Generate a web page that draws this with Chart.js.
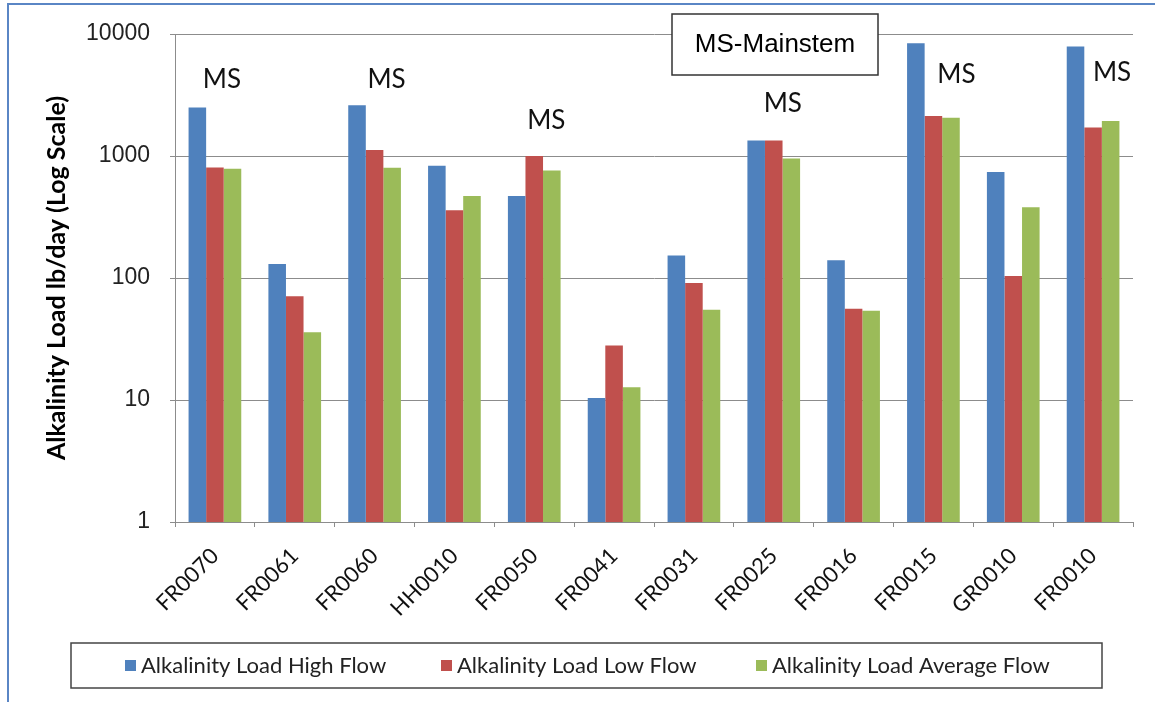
<!DOCTYPE html>
<html>
<head>
<meta charset="utf-8">
<script src="https://cdn.jsdelivr.net/npm/chart.js@4.4.0/dist/chart.umd.min.js"></script>
<style>
    body { margin: 0; background: #fff; }
    #wrap { position: relative; width: 1155px; height: 702px; }
    #frame { position: absolute; left: 7px; top: 3px; right: 0; bottom: 0;
             border-top: 2px solid #5a86c5; border-left: 2px solid #5a86c5; pointer-events: none; }
</style>
</head>
<body>
<div id="wrap">
    <canvas id="alkChart" width="1155" height="702"></canvas>
    <div id="frame"></div>
</div>
<script>
'use strict';

var stations = ["FR0070", "FR0061", "FR0060", "HH0010", "FR0050", "FR0041",
                "FR0031", "FR0025", "FR0016", "FR0015", "GR0010", "FR0010"];
var highFlow = [2500, 130, 2600, 830, 470, 10.4, 153, 1340, 140, 8400, 740, 7900];
var lowFlow  = [805, 71, 1120, 360, 1000, 28, 91, 1340, 56, 2130, 104, 1710];
var avgFlow  = [787, 36, 800, 470, 760, 12.7, 55, 955, 54, 2060, 380, 1940];
var yTicks   = [1, 10, 100, 1000, 10000];
var mainstem = ["FR0070", "FR0060", "FR0050", "FR0025", "FR0015", "FR0010"];

// where the hand placed "MS" boxes sit: px offset from category centre, height in axis units
var msPlace = [[7, 4200], [12, 4200], [12, 1940], [9, 2670], [23, 4610], [19, 4790]];

var blue = "#4f81bd", red = "#c0504d", green = "#9bbb59";
var gridGray = "#8c8c8c";

var annotations = {
    id: 'annotations',
    afterDraw: function (chart) {
        var ctx = chart.ctx;
        var xs = chart.scales.x, ys = chart.scales.y;
        ctx.save();

        // MS labels
        ctx.fillStyle = "#111";
        ctx.font = "26px Lato";
        ctx.textAlign = "center";
        ctx.textBaseline = "middle";
        mainstem.forEach(function (name, i) {
            var idx = stations.indexOf(name);
            var x = xs.getPixelForValue(idx) + msPlace[i][0];
            var y = ys.getPixelForValue(msPlace[i][1]);
            ctx.fillText("MS", x, y);
        });

        // MS-Mainstem note box
        ctx.fillStyle = "#fff";
        ctx.fillRect(672, 14, 206, 61);
        ctx.strokeStyle = "#333";
        ctx.lineWidth = 1.5;
        ctx.strokeRect(672, 14, 206, 61);
        ctx.fillStyle = "#000";
        ctx.font = "26px 'Liberation Sans'";
        ctx.fillText("MS-Mainstem", 775, 45);

        // legend
        ctx.strokeStyle = "#444";
        ctx.lineWidth = 1.5;
        ctx.strokeRect(71, 643, 1031, 45);
        var starts = [125, 441, 756];
        ctx.font = "22px Lato";
        ctx.textAlign = "left";
        chart.data.datasets.forEach(function (ds, i) {
            ctx.fillStyle = ds.backgroundColor;
            ctx.fillRect(starts[i], 660, 11, 11);
            ctx.fillStyle = "#222";
            ctx.fillText(ds.label, starts[i] + 16, 666);
        });
        ctx.restore();
    }
};

var alkChart = new Chart(document.getElementById('alkChart'), {
    type: 'bar',
    data: {
        labels: stations,
        datasets: [
            { label: "Alkalinity Load High Flow", data: highFlow, backgroundColor: blue },
            { label: "Alkalinity Load Low Flow", data: lowFlow, backgroundColor: red },
            { label: "Alkalinity Load Average Flow", data: avgFlow, backgroundColor: green }
        ]
    },
    options: {
        responsive: false,
        animation: false,
        categoryPercentage: 0.66,
        barPercentage: 1.0,
        layout: { padding: { top: 34, right: 22, left: 10, bottom: 0 } },
        plugins: {
            legend: { display: false },
            tooltip: { enabled: false }
        },
        scales: {
            x: {
                grid: { offset: true, drawOnChartArea: false, tickLength: 5, color: gridGray },
                border: { color: gridGray },
                ticks: {
                    minRotation: 45, maxRotation: 45, padding: 16,
                    color: "#111", font: { family: "Lato", size: 22 }
                },
                afterFit: function (s) { s.height = 180; }
            },
            y: {
                type: 'logarithmic',
                min: 1, max: 10000,
                afterBuildTicks: function (s) {
                    s.ticks = yTicks.map(function (v) { return { value: v }; });
                },
                grid: { color: gridGray, tickLength: 5 },
                border: { color: gridGray },
                ticks: {
                    padding: 20, color: "#222",
                    font: { family: "'Liberation Sans'", size: 23 },
                    callback: function (v) { return String(v); }
                },
                title: {
                    display: true,
                    text: "Alkalinity Load lb/day (Log Scale)",
                    color: "#000",
                    font: { family: "Lato", size: 25, weight: 'bold' },
                    padding: { top: 32, bottom: 0 }
                },
                afterFit: function (s) { s.width = 165; }
            }
        }
    },
    plugins: [annotations]
});
</script>
</body>
</html>
